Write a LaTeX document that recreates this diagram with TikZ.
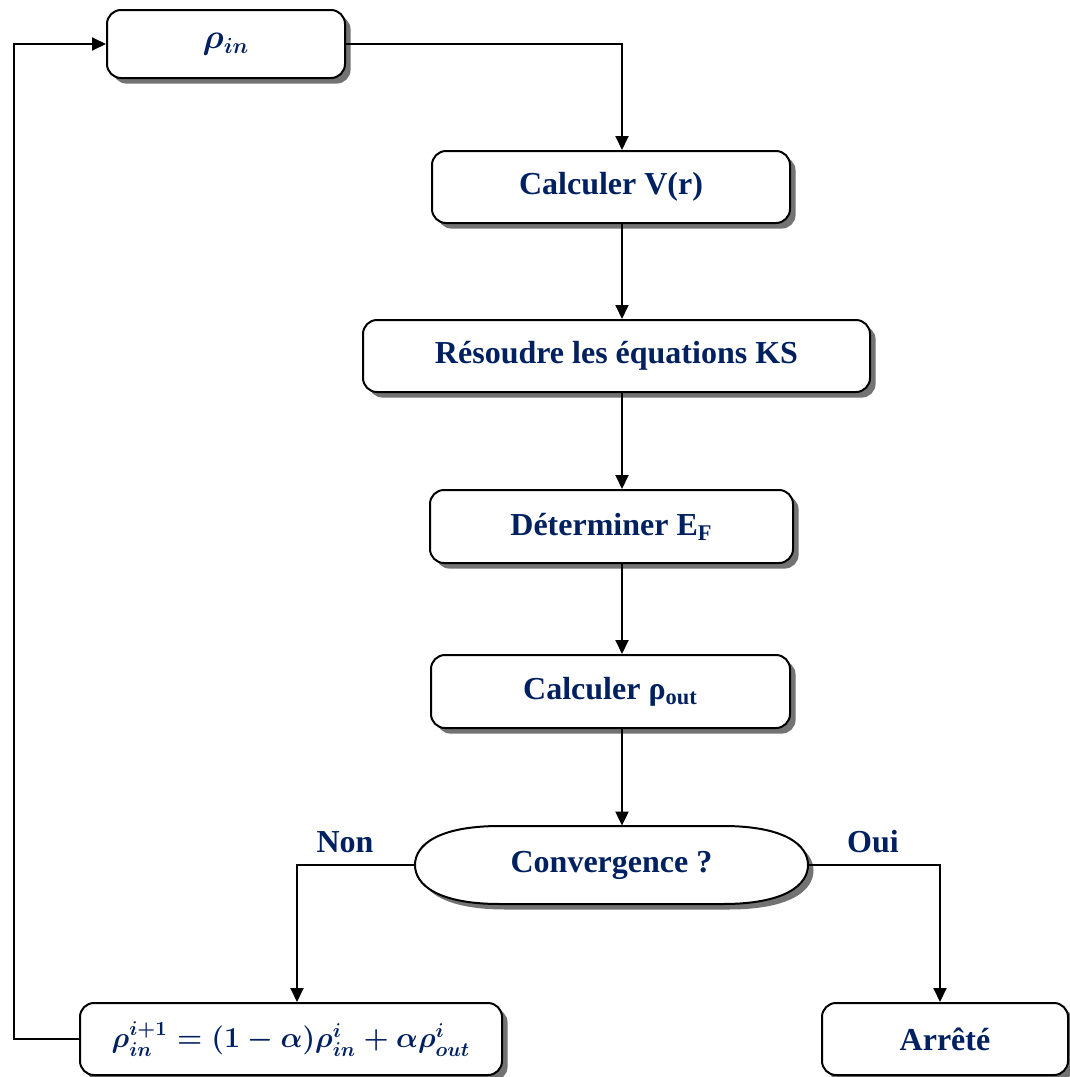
\documentclass[tikz,border=0pt]{standalone}
\usepackage{amsmath,bm}
\usepackage{fontspec}
\setmainfont{Liberation Serif}
\usetikzlibrary{arrows.meta,shadows,calc}
\definecolor{txt}{RGB}{0,32,96}
\begin{document}
\begin{tikzpicture}[x=0.5pt,y=-0.5pt,
  box/.style={draw,line width=1pt,rounded corners=7pt,fill=white,align=center,
    font=\fontsize{16}{19}\bfseries,text=txt,
    drop shadow={shadow xshift=2.8pt,shadow yshift=-2.8pt,fill=black!55,opacity=1}},
  conn/.style={line width=0.95pt,-{Triangle[length=7pt,width=6.5pt]}},
  lbl/.style={font=\fontsize{16}{19}\bfseries,text=txt}]
\useasboundingbox (0,0) rectangle (1070,1077);
\coordinate (ax) at (622,0);
\coordinate (nx) at (297,0);
\coordinate (ox) at (940,0);
\coordinate (lx) at (14,0);
\node[box,minimum width=119pt,minimum height=34pt,font=\fontsize{16}{19}\boldmath] (rin) at (226,44) {$\bm{\rho_{in}}$};
\node[box,minimum width=179pt,minimum height=36pt] (calc) at (611,187) {Calculer V(r)};
\node[box,minimum width=253.5pt,minimum height=36pt] (res) at (616.5,356) {Résoudre les équations KS};
\node[box,minimum width=181.5pt,minimum height=36.5pt] (det) at (611.5,526.5) {Déterminer E\textsubscript{F}};
\node[box,minimum width=179.5pt,minimum height=36.5pt] (rout) at (610.5,691.5) {Calculer ρ\textsubscript{out}};
% convergence terminator shape
\fill[black!55,shift={(5.5,5.5)}] (500,826) -- (723,826) .. controls (785,826) and (808,845) .. (808,865) .. controls (808,885) and (785,904) .. (723,904) -- (500,904) .. controls (438,904) and (415,885) .. (415,865) .. controls (415,845) and (438,826) .. (500,826) -- cycle;
\filldraw[fill=white,line width=1pt] (500,826) -- (723,826) .. controls (785,826) and (808,845) .. (808,865) .. controls (808,885) and (785,904) .. (723,904) -- (500,904) .. controls (438,904) and (415,885) .. (415,865) .. controls (415,845) and (438,826) .. (500,826) -- cycle;
\node[minimum width=196.5pt,minimum height=39pt,inner sep=0pt,font=\fontsize{16}{19}\bfseries,text=txt] (conv) at (611.5,865) {Convergence ?};
\node[box,minimum width=211pt,minimum height=36pt,font=\fontsize{14.8}{17}\boldmath] (bl) at (291,1039) {$\bm{\rho_{in}^{i+1} = (1-\alpha)\rho_{in}^{i} + \alpha\rho_{out}^{i}}$};
\node[box,minimum width=123pt,minimum height=36pt] (arr) at (945,1039) {Arrêté};
\node[lbl] (non) at (345,842) {Non};
\node[lbl] (oui) at (873,842) {Oui};
\draw[conn] (rin.east) -| (calc.north -| ax);
\draw[conn] (calc.south -| ax) -- (res.north -| ax);
\draw[conn] (res.south -| ax) -- (det.north -| ax);
\draw[conn] (det.south -| ax) -- (rout.north -| ax);
\draw[conn] (rout.south -| ax) -- (conv.north -| ax);
\draw[conn] (conv.west) -| (bl.north -| nx);
\draw[conn] (conv.east) -| (arr.north -| ox);
\draw[conn] (bl.west) -- (bl.west -| lx) |- (rin.west);
\end{tikzpicture}
\end{document}
